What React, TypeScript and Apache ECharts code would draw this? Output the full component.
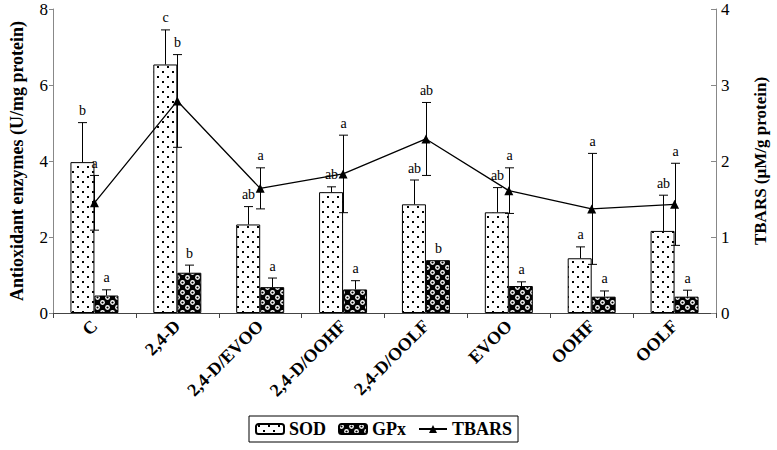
import React, { useEffect, useRef } from 'react';
import * as echarts from 'echarts';

const categories = ['C', '2,4-D', '2,4-D/EVOO', '2,4-D/OOHF', '2,4-D/OOLF', 'EVOO', 'OOHF', 'OOLF'];
const sod = [3.97, 6.54, 2.33, 3.18, 2.86, 2.65, 1.44, 2.16];
const sodErr = [1.04, 0.91, 0.47, 0.14, 0.64, 0.65, 0.3, 0.94];
const gpx = [0.46, 1.06, 0.68, 0.62, 1.39, 0.71, 0.43, 0.43];
const gpxErr = [0.15, 0.2, 0.24, 0.23, 0, 0.11, 0.15, 0.17];
const tbars = [1.45, 2.79, 1.64, 1.83, 2.29, 1.61, 1.37, 1.43];
const tbarsErr = [0.36, 0.61, 0.27, 0.51, 0.48, 0.3, 0.73, 0.54];
const sodLetters = ['b', 'c', 'ab', 'ab', 'ab', 'ab', 'a', 'ab'];
const gpxLetters = ['a', 'b', 'a', 'a', 'b', 'a', 'a', 'a'];
const tbarsLetters = ['a', 'b', 'a', 'a', 'ab', 'a', 'a', 'a'];
const leftTicks = [0, 2, 4, 6, 8];
const rightTicks = [0, 1, 2, 3, 4];

const SERIF = '"Liberation Serif", "Times New Roman", serif';

function sodTile(): string {
  const c = document.createElement('canvas');
  c.width = 10;
  c.height = 10;
  const g = c.getContext('2d')!;
  g.fillStyle = '#fff';
  g.fillRect(0, 0, 10, 10);
  g.fillStyle = '#000';
  g.fillRect(2, 1, 2, 2);
  g.fillRect(7, 6, 2, 2);
  return c.toDataURL();
}

function gpxTile(): string {
  const c = document.createElement('canvas');
  c.width = 10;
  c.height = 10;
  const g = c.getContext('2d')!;
  g.fillStyle = '#000';
  g.fillRect(0, 0, 10, 10);
  g.fillStyle = '#fff';
  g.beginPath();
  g.arc(2.5, 2.5, 2.4, 0, Math.PI * 2);
  g.fill();
  g.beginPath();
  g.arc(7.5, 7.5, 2.4, 0, Math.PI * 2);
  g.fill();
  g.fillStyle = '#000';
  g.beginPath();
  g.arc(2.5, 2.5, 1.1, 0, Math.PI * 2);
  g.fill();
  g.beginPath();
  g.arc(7.5, 7.5, 1.1, 0, Math.PI * 2);
  g.fill();
  return c.toDataURL();
}

function errSeries(
  name: string,
  values: number[],
  errs: number[],
  letters: string[],
  yAxisIndex: number,
  offset: number,
  both: boolean
) {
  return {
    type: 'custom',
    name,
    yAxisIndex,
    z: 5,
    silent: true,
    data: values.map((v, i) => [i, v, v + errs[i], both ? v - errs[i] : v]),
    renderItem: (params: any, api: any) => {
      const i = api.value(0);
      const top = api.coord([i, api.value(2)]);
      const bot = api.coord([i, api.value(3)]);
      const x = Math.round(top[0] + offset) + 0.5;
      const children: any[] = [];
      const st = { stroke: '#000', lineWidth: 1 };
      if (errs[params.dataIndex] > 0) {
        children.push({ type: 'line', shape: { x1: x, y1: bot[1], x2: x, y2: top[1] }, style: st });
        children.push({ type: 'line', shape: { x1: x - 4.5, y1: top[1], x2: x + 4.5, y2: top[1] }, style: st });
        if (both) {
          children.push({ type: 'line', shape: { x1: x - 4.5, y1: bot[1], x2: x + 4.5, y2: bot[1] }, style: st });
        }
      }
      children.push({
        type: 'text',
        x,
        y: top[1] - 5,
        style: {
          text: letters[params.dataIndex],
          align: 'center',
          verticalAlign: 'bottom',
          fontFamily: SERIF,
          fontSize: 14,
          fill: '#000',
        },
      });
      return { type: 'group', children };
    },
  };
}

export default function App() {
  const ref = useRef<HTMLDivElement>(null);
  useEffect(() => {
    if (!ref.current) return;
    const chart = echarts.init(ref.current, null, { renderer: 'svg' });
    const sodFill = { image: sodTile(), repeat: 'repeat', imageWidth: 10, imageHeight: 10 };
    const gpxFill = { image: gpxTile(), repeat: 'repeat', imageWidth: 10, imageHeight: 10 };
    const axisLabelStyle = { fontFamily: SERIF, fontSize: 17, color: '#000' };
    const option: any = {
      animation: false,
      backgroundColor: '#fff',
      grid: { left: 49, right: 51, top: 9, height: 304 },
      legend: {
        data: ['SOD', 'GPx', 'TBARS'],
        left: 249,
        top: 416,
        orient: 'horizontal',
        borderColor: '#000',
        borderWidth: 1,
        padding: [4, 6],
        itemGap: 12,
        itemWidth: 28,
        itemHeight: 10,
        textStyle: { fontFamily: SERIF, fontWeight: 'bold', fontSize: 18, color: '#000' },
      },
      xAxis: {
        type: 'category',
        data: categories,
        boundaryGap: true,
        axisLine: { show: true, lineStyle: { color: '#444', width: 1 } },
        axisTick: { show: true, length: 5, lineStyle: { color: '#444' } },
        axisLabel: {
          interval: 0,
          rotate: 45,
          margin: 10,
          fontFamily: SERIF,
          fontWeight: 'bold',
          fontSize: 18,
          color: '#000',
        },
        splitLine: { show: false },
      },
      yAxis: [
        {
          type: 'value',
          min: leftTicks[0],
          max: leftTicks[leftTicks.length - 1],
          interval: 2,
          name: 'Antioxidant enzymes (U/mg protein)',
          nameLocation: 'middle',
          nameRotate: 90,
          nameGap: 27,
          nameTextStyle: { fontFamily: SERIF, fontWeight: 'bold', fontSize: 18, color: '#000' },
          axisLine: { show: true, lineStyle: { color: '#888' } },
          axisTick: { show: true, length: 4, lineStyle: { color: '#888' } },
          axisLabel: { ...axisLabelStyle, margin: 5 },
          splitLine: { show: false },
        },
        {
          type: 'value',
          position: 'right',
          min: rightTicks[0],
          max: rightTicks[rightTicks.length - 1],
          interval: 1,
          name: 'TBARS (µM/g protein)',
          nameLocation: 'middle',
          nameRotate: 90,
          nameGap: 36,
          nameTextStyle: { fontFamily: SERIF, fontWeight: 'bold', fontSize: 17, color: '#000' },
          axisLine: { show: true, lineStyle: { color: '#888' } },
          axisTick: { show: true, inside: true, length: 5, lineStyle: { color: '#888' } },
          axisLabel: { ...axisLabelStyle, margin: 5 },
          splitLine: { show: false },
        },
      ],
      series: [
        {
          type: 'bar',
          name: 'SOD',
          data: sod,
          barWidth: 24,
          barGap: '0%',
          itemStyle: { color: sodFill, borderColor: '#000', borderWidth: 1 },
          z: 2,
        },
        {
          type: 'bar',
          name: 'GPx',
          data: gpx,
          barWidth: 24,
          barGap: '0%',
          itemStyle: { color: gpxFill, borderColor: '#000', borderWidth: 1 },
          z: 2,
        },
        {
          type: 'line',
          name: 'TBARS',
          yAxisIndex: 1,
          data: tbars,
          symbol: 'triangle',
          symbolSize: 9,
          lineStyle: { color: '#000', width: 1.3 },
          itemStyle: { color: '#000' },
          z: 4,
        },
        errSeries('SOD err', sod, sodErr, sodLetters, 0, -12, false),
        errSeries('GPx err', gpx, gpxErr, gpxLetters, 0, 12, false),
        errSeries('TBARS err', tbars, tbarsErr, tbarsLetters, 1, 0, true),
      ],
    };
    chart.setOption(option);
    return () => chart.dispose();
  }, []);
  return (
    <div
      ref={ref}
      style={{ position: 'absolute', left: 0, top: 0, width: 777, height: 450, background: '#fff' }}
    />
  );
}
